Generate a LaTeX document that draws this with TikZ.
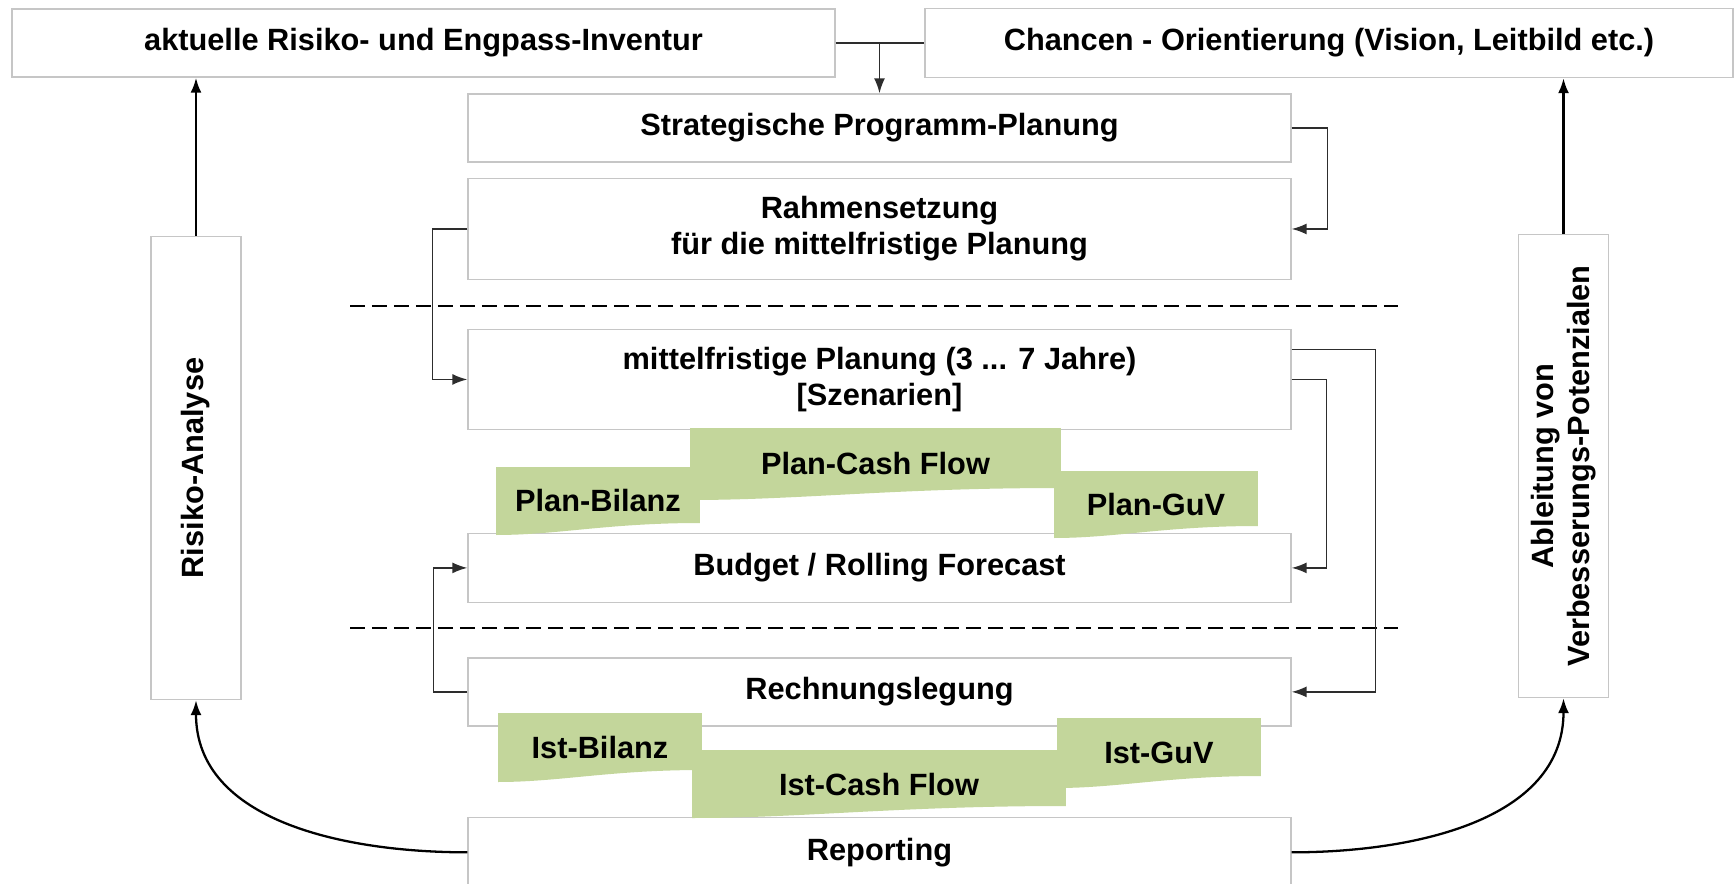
\documentclass[tikz,border=0pt]{standalone}
\usepackage{fontspec}
\setmainfont{Liberation Sans}
\usepackage{tikz}
\usetikzlibrary{arrows}
\usetikzlibrary{arrows.meta}
\usetikzlibrary{positioning}
\usetikzlibrary{calc}
\tikzset{>=latex}

\definecolor{boxgray}{RGB}{198,198,198}
\definecolor{sheetgreen}{RGB}{195,214,155}
\definecolor{linegray}{RGB}{45,45,45}
\newcommand{\boxfont}{\bfseries\fontsize{17.5}{20.5}\selectfont}

\tikzset{
    box/.style={draw=boxgray, line width=0.85pt, fill=white, inner sep=0pt, align=center,
        minimum width=16.46cm, minimum height=1.36cm, font=\boxfont},
    sidebox/.style={box, rotate=90, minimum width=9.26cm, minimum height=1.8cm},
    sheet/.style={inner sep=0pt, align=center, font=\boxfont,
        path picture={
            \fill [sheetgreen] (path picture bounding box.north west)
                -- (path picture bounding box.north east)
                -- ([yshift=0.24cm]path picture bounding box.south east)
                .. controls ([yshift=0.24cm]$(path picture bounding box.south west)!0.55!(path picture bounding box.south east)$)
                and ($(path picture bounding box.south west)!0.3!(path picture bounding box.south east)$)
                .. (path picture bounding box.south west) -- cycle;
        }},
    link/.style={-{Latex[length=0.3cm, width=0.22cm]}, draw=linegray, line width=0.9pt},
    flow/.style={-{Latex[length=0.3cm, width=0.22cm]}, line width=1.3pt},
    divider/.style={dash pattern=on 0.3cm off 0.14cm, line width=1.6pt}
}

\begin{document}
\begin{tikzpicture}[x=0.02cm, y=-0.02cm]
        \useasboundingbox (0,0) rectangle (1735,883);

        \node [box] (Inventur) at (423.5,43) {aktuelle Risiko- und Engpass-Inventur};
        \node [box, minimum width=16.16cm, minimum height=1.38cm] (Chancen) at (1329,43) {Chancen - Orientierung (Vision, Leitbild etc.)};

        \node [box] (Strategie) at (879.5,128) {Strategische Programm-Planung};
        \node [box, minimum height=2.02cm, below=0.3cm of Strategie] (Rahmen) {Rahmensetzung\\für die mittelfristige Planung};
        \node [box, minimum height=2cm, below=0.97cm of Rahmen] (Mittel) {mittelfristige Planung (3 ... 7 Jahre)\\{}[Szenarien]};
        \node [box, minimum height=1.38cm, below=2.05cm of Mittel] (Budget) {Budget / Rolling Forecast};
        \node [box, below=1.08cm of Budget] (Rechnung) {Rechnungslegung};
        \node [box, minimum height=1.4cm, below=1.8cm of Rechnung] (Reporting) {Reporting};

        \node [sidebox] (Risiko) at (196,468) {Risiko-Analyse};
        \node [sidebox] (Ableitung) at (1563.5,466) {Ableitung von\\Verbesserungs-Potenzialen};

        \node [sheet, minimum width=7.42cm, minimum height=1.44cm] (PlanCash) at (875.5,464) {Plan-Cash Flow};
        \node [sheet, minimum width=4.08cm, minimum height=1.36cm] (PlanBilanz) at (598,501) {Plan-Bilanz};
        \node [sheet, minimum width=4.08cm, minimum height=1.34cm] (PlanGuV) at (1156,504.5) {Plan-GuV};

        \node [sheet, minimum width=4.08cm, minimum height=1.38cm] (IstBilanz) at (600,747.5) {Ist-Bilanz};
        \node [sheet, minimum width=7.48cm, minimum height=1.36cm] (IstCash) at (879,784) {Ist-Cash Flow};
        \node [sheet, minimum width=4.08cm, minimum height=1.4cm] (IstGuV) at (1159,753) {Ist-GuV};

        \coordinate (UpperLeft) at (350,306);
        \coordinate (UpperRight) at (1398,306);
        \coordinate (LowerLeft) at (350,628);
        \coordinate (LowerRight) at (1398,628);
        \draw [divider] (UpperLeft) -- (UpperRight);
        \draw [divider] (LowerLeft) -- (LowerRight);

        \coordinate (Split) at (Inventur.east -| Strategie.north);
        \draw [link, -] (Inventur.east) -- (Chancen.west);
        \draw [link] (Split) -- (Strategie.north);

        \draw [link] (Strategie.east) -- ++(36,0) |- (Rahmen.east);
        \draw [link] (Rahmen.west) -- ++(-35,0) |- (Mittel.west);
        \draw [link] ([yshift=0.6cm]Mittel.east) -- ++(84,0) |- (Rechnung.east);
        \draw [link] (Mittel.east) -- ++(35,0) |- (Budget.east);
        \draw [link] (Rechnung.west) -- ++(-34,0) |- (Budget.west);

        \draw [flow] (Risiko.east) -- (Risiko.east |- Inventur.south);
        \draw [flow] (Ableitung.east) -- (Ableitung.east |- Chancen.south);

        \draw [flow] (Reporting.west) to [out=180, in=-90] (Risiko.west);
        \draw [flow] (Reporting.east) to [out=0, in=-90] (Ableitung.west);
\end{tikzpicture}
\end{document}
